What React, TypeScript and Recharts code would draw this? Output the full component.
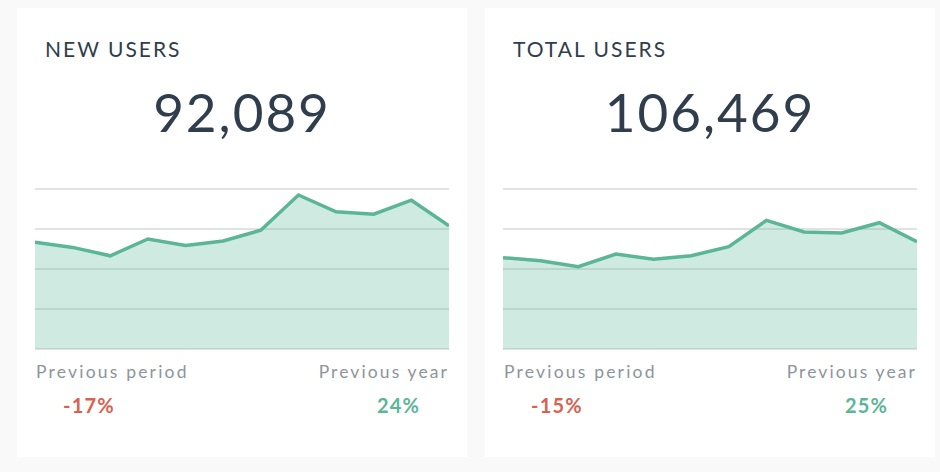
import { Area, AreaChart, CartesianGrid, XAxis, YAxis } from "recharts";

const months = ["Jan", "Feb", "Mar", "Apr", "May", "Jun", "Jul", "Aug", "Sep", "Oct", "Nov", "Dec"];

const newUsers = [6675, 6350, 5825, 6875, 6475, 6750, 7425, 9625, 8575, 8425, 9300, 7700];
const newUsersTicks = [0, 2500, 5000, 7500, 10000];

const totalUsers = [7990, 7730, 7200, 8310, 7850, 8160, 8950, 11260, 10240, 10150, 11050, 9390];
const totalUsersTicks = [0, 3500, 7000, 10500, 14000];

const GREEN = "#5bb597";
const RED = "#d9614f";
const INK = "#2f3d4c";
const MUTED = "#8e949b";
const FONT = "Lato, 'Open Sans', sans-serif";

type CardProps = {
  left: number;
  title: string;
  total: string;
  values: number[];
  ticks: number[];
  prevPeriod: string;
  prevYear: string;
};

function KpiCard({ left, title, total, values, ticks, prevPeriod, prevYear }: CardProps) {
  const data = months.map((m, i) => ({ month: m, users: values[i] }));

  return (
    <div
      style={{
        position: "absolute",
        left,
        top: 8,
        width: 450,
        height: 449,
        background: "#ffffff",
        fontFamily: FONT,
      }}
    >
      <div
        style={{
          position: "absolute",
          left: 28,
          top: 30,
          fontSize: 21,
          lineHeight: 1,
          letterSpacing: 2,
          color: INK,
        }}
      >
        {title}
      </div>
      <div
        style={{
          position: "absolute",
          left: 0,
          width: 450,
          top: 77,
          textAlign: "center",
          fontSize: 53,
          fontWeight: 400,
          lineHeight: 1,
          letterSpacing: 2,
          color: INK,
        }}
      >
        {total}
      </div>

      <div style={{ position: "absolute", left: 18, top: 179 }}>
        <AreaChart width={414} height={164} data={data} margin={{ top: 2, right: 0, bottom: 2, left: 0 }}>
          <CartesianGrid vertical={false} stroke="#d8d8d8" strokeWidth={1.5} />
          <XAxis dataKey="month" hide />
          <YAxis hide domain={[ticks[0], ticks[ticks.length - 1]]} ticks={ticks} />
          <Area
            type="linear"
            dataKey="users"
            stroke={GREEN}
            strokeWidth={3.5}
            fill={GREEN}
            fillOpacity={0.29}
            dot={false}
            activeDot={false}
            isAnimationActive={false}
          />
        </AreaChart>
      </div>

      <div
        style={{
          position: "absolute",
          left: 19,
          top: 355,
          fontSize: 17.5,
          lineHeight: 1,
          letterSpacing: 2.2,
          color: MUTED,
        }}
      >
        Previous period
      </div>
      <div
        style={{
          position: "absolute",
          right: 18,
          top: 355,
          fontSize: 17.5,
          lineHeight: 1,
          letterSpacing: 2.1,
          color: MUTED,
        }}
      >
        Previous year
      </div>
      <div
        style={{
          position: "absolute",
          left: 46,
          top: 387,
          fontSize: 20,
          fontWeight: 700,
          lineHeight: 1,
          letterSpacing: 1.2,
          color: RED,
        }}
      >
        {prevPeriod}
      </div>
      <div
        style={{
          position: "absolute",
          left: 360,
          top: 387,
          fontSize: 20,
          fontWeight: 700,
          lineHeight: 1,
          letterSpacing: 1.2,
          color: GREEN,
        }}
      >
        {prevYear}
      </div>
    </div>
  );
}

export default function App() {
  return (
    <div
      style={{
        position: "absolute",
        left: 0,
        top: 0,
        width: 940,
        height: 472,
        background: "#f9f9f9",
        overflow: "hidden",
      }}
    >
      <KpiCard
        left={17}
        title="NEW USERS"
        total="92,089"
        values={newUsers}
        ticks={newUsersTicks}
        prevPeriod="-17%"
        prevYear="24%"
      />
      <KpiCard
        left={485}
        title="TOTAL USERS"
        total="106,469"
        values={totalUsers}
        ticks={totalUsersTicks}
        prevPeriod="-15%"
        prevYear="25%"
      />
    </div>
  );
}
